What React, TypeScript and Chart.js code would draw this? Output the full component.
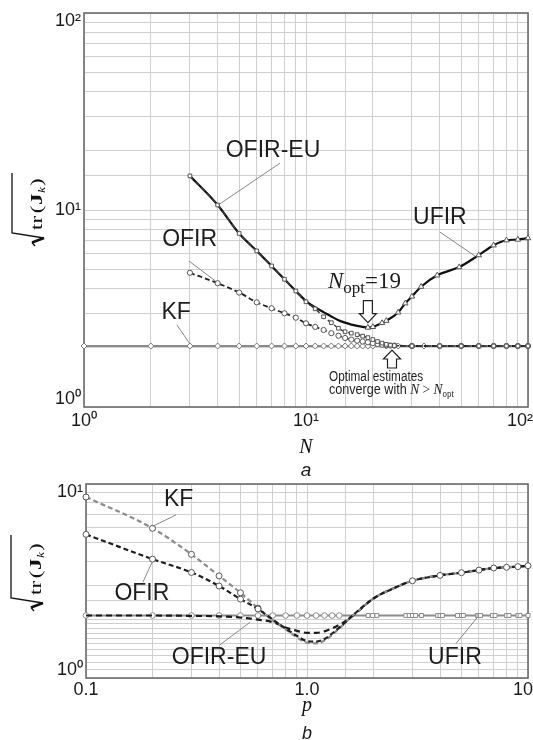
import React, { useEffect, useRef } from 'react';
import { Chart, registerables } from 'chart.js';

Chart.register(...registerables);

// ===================== Panel a : sqrt(tr J_k) versus horizon N =====================
const nKF = [1, 2, 3, 4, 5, 6, 7, 8, 9, 10, 11, 12, 13, 14, 15, 16, 17, 18, 19, 20, 23, 26, 30, 34, 40, 50, 60, 70, 80, 90, 100];
const vKF = [2.04, 2.04, 2.04, 2.04, 2.04, 2.04, 2.04, 2.04, 2.04, 2.04, 2.04, 2.04, 2.04, 2.04, 2.04, 2.04, 2.04, 2.04, 2.04, 2.04, 2.04, 2.04, 2.04, 2.04, 2.04, 2.04, 2.04, 2.04, 2.04, 2.04, 2.04];

const nOFIR = [3, 4, 5, 6, 7, 8, 9, 10, 11, 12, 13, 14, 15, 16, 17, 18, 19, 20, 21, 22, 23, 24, 25, 30, 40, 50, 60, 70, 80, 90, 100];
const vOFIR = [4.8, 4.25, 3.81, 3.4, 3.17, 2.99, 2.84, 2.66, 2.55, 2.46, 2.37, 2.3, 2.24, 2.2, 2.17, 2.15, 2.13, 2.11, 2.09, 2.07, 2.06, 2.05, 2.05, 2.04, 2.04, 2.04, 2.04, 2.04, 2.04, 2.04, 2.04];

const nOFIREU = [3, 4, 5, 6, 7, 8, 9, 10, 11, 12, 13, 14, 15, 16, 17, 18, 19, 20, 21, 22, 23, 24, 25, 30, 40, 50, 60, 70, 80, 90, 100];
const vOFIREU = [14.9, 10.6, 7.6, 6.2, 5.2, 4.45, 3.88, 3.42, 3.15, 2.87, 2.68, 2.51, 2.41, 2.37, 2.33, 2.29, 2.25, 2.2, 2.15, 2.11, 2.08, 2.06, 2.05, 2.04, 2.04, 2.04, 2.04, 2.04, 2.04, 2.04, 2.04];

const nUFIR = [3, 4, 5, 6, 7, 8, 9, 10, 11, 12, 13, 14, 15, 16, 17, 18, 19, 20, 22, 23, 26, 28, 30, 33, 39, 49, 60, 70, 80, 90, 100];
const vUFIR = [14.9, 10.6, 7.6, 6.2, 5.2, 4.45, 3.88, 3.45, 3.2, 3.03, 2.88, 2.76, 2.68, 2.62, 2.58, 2.55, 2.53, 2.55, 2.67, 2.74, 3.02, 3.36, 3.64, 4.08, 4.66, 5.13, 5.9, 6.62, 7.02, 7.08, 7.2];

const N_OPT = 19;
const N_OPT_VALUE = 2.53;

const xTickValsA = [1, 10, 100];
const xTickTextA = ['10\u2070', '10\u00B9', '10\u00B2'];
const yTickValsA = [1, 10, 100];
const yTickTextA = ['10\u2070', '10\u00B9', '10\u00B2'];

// ===================== Panel b : sqrt(tr J_k) versus noise factor p =====================
const pB = [0.1, 0.2, 0.3, 0.4, 0.5, 0.6, 0.7, 0.8, 0.9, 1.0, 1.1, 1.2, 1.4, 1.6, 2.0, 2.5, 3, 4, 5, 6, 7, 8, 9, 10];
const vKFb = [8.57, 5.91, 4.34, 3.36, 2.75, 2.29, 1.98, 1.78, 1.62, 1.52, 1.51, 1.56, 1.8, 2.08, 2.57, 2.92, 3.17, 3.38, 3.49, 3.6, 3.69, 3.72, 3.75, 3.79];
const vOFIRb = [5.5, 4.1, 3.5, 2.98, 2.55, 2.27, 2.0, 1.8, 1.65, 1.55, 1.54, 1.59, 1.82, 2.09, 2.57, 2.92, 3.17, 3.38, 3.49, 3.6, 3.69, 3.72, 3.75, 3.79];
const vOFIREUb = [2.1, 2.1, 2.09, 2.08, 2.05, 2.0, 1.94, 1.82, 1.75, 1.71, 1.71, 1.74, 1.88, 2.08, 2.57, 2.92, 3.17, 3.38, 3.49, 3.6, 3.69, 3.72, 3.75, 3.79];

const pUFIRb = [0.1, 0.2, 0.3, 0.4, 0.5, 0.6, 0.7, 0.8, 0.9, 1.0, 1.1, 1.2, 1.3, 1.4, 1.89, 1.98, 2.07, 2.8, 2.9, 3.0, 3.1, 3.3, 3.9, 4.0, 4.1, 4.8, 5.0, 5.1, 5.9, 6.0, 6.1, 6.9, 7.1, 8.0, 8.2, 9.0, 9.2, 10];
const vUFIRb = [2.1, 2.1, 2.1, 2.1, 2.1, 2.1, 2.1, 2.1, 2.1, 2.1, 2.1, 2.1, 2.1, 2.1, 2.1, 2.1, 2.1, 2.1, 2.1, 2.1, 2.1, 2.1, 2.1, 2.1, 2.1, 2.1, 2.1, 2.1, 2.1, 2.1, 2.1, 2.1, 2.1, 2.1, 2.1, 2.1, 2.1, 2.1];

const xTickValsB = [0.1, 1, 10];
const xTickTextB = ['0.1', '1.0', '10'];
const yTickValsB = [1, 10];
const yTickTextB = ['10\u2070', '10\u00B9'];

// ===================== helpers =====================
const SANS = '"Liberation Sans", Arial, sans-serif';
const SERIF = '"Liberation Serif", "Times New Roman", serif';

const pts = (xs: number[], ys: number[]) => xs.map((x, i) => ({ x, y: ys[i] }));

const near = (a: number, b: number) => Math.abs(a - b) / b < 1e-6;

// x tick labels: only the decades; the last one is drawn inside the page by the plugin
const xLabelFor = (vals: number[], texts: string[], max: number) => (v: any) => {
  const n = Number(v);
  if (near(n, max)) return '';
  for (let i = 0; i < vals.length; i++) if (near(n, vals[i])) return texts[i];
  return '';
};

// y tick labels: the end labels are nudged inside the frame (two-line trick)
const yLabelFor = (vals: number[], texts: string[], min: number, max: number) => (v: any) => {
  const n = Number(v);
  for (let i = 0; i < vals.length; i++) {
    if (near(n, vals[i])) {
      if (near(n, min)) return [texts[i], ''];
      if (near(n, max)) return ['', texts[i]];
      return texts[i];
    }
  }
  return '';
};

function frame(chart: any) {
  const { ctx, chartArea: a } = chart;
  ctx.save();
  ctx.strokeStyle = '#6c6c6c';
  ctx.lineWidth = 1.6;
  ctx.strokeRect(a.left, a.top, a.right - a.left, a.bottom - a.top);
  ctx.restore();
}

function leader(ctx: any, x1: number, y1: number, x2: number, y2: number) {
  ctx.save();
  ctx.strokeStyle = '#7a7a7a';
  ctx.lineWidth = 0.9;
  ctx.beginPath();
  ctx.moveTo(x1, y1);
  ctx.lineTo(x2, y2);
  ctx.stroke();
  ctx.restore();
}

function label(ctx: any, text: string, x: number, y: number, size = 23) {
  ctx.save();
  ctx.font = `${size}px ${SANS}`;
  ctx.fillStyle = '#1e1e1e';
  ctx.textAlign = 'center';
  ctx.textBaseline = 'middle';
  ctx.fillText(text, x, y);
  ctx.restore();
}

type Run = { t: string; font: string; dy?: number };
function drawRuns(ctx: any, runs: Run[], x: number, y: number, sx = 1) {
  ctx.save();
  ctx.translate(x, y);
  ctx.scale(sx, 1);
  ctx.fillStyle = '#1e1e1e';
  ctx.textAlign = 'left';
  ctx.textBaseline = 'alphabetic';
  let px = 0;
  for (const r of runs) {
    ctx.font = r.font;
    ctx.fillText(r.t, px, r.dy || 0);
    px += ctx.measureText(r.t).width;
  }
  ctx.restore();
}

function hollowArrow(ctx: any, x: number, tipY: number, dir: number, len: number) {
  const shaftW = 9, headW = 17, headL = 9;
  const yBase = tipY - dir * len;
  const yHead = tipY - dir * headL;
  ctx.save();
  ctx.beginPath();
  ctx.moveTo(x - shaftW / 2, yBase);
  ctx.lineTo(x + shaftW / 2, yBase);
  ctx.lineTo(x + shaftW / 2, yHead);
  ctx.lineTo(x + headW / 2, yHead);
  ctx.lineTo(x, tipY);
  ctx.lineTo(x - headW / 2, yHead);
  ctx.lineTo(x - shaftW / 2, yHead);
  ctx.closePath();
  ctx.fillStyle = '#fff';
  ctx.fill();
  ctx.strokeStyle = '#222';
  ctx.lineWidth = 1.2;
  ctx.stroke();
  ctx.restore();
}

function rootLabel(ctx: any, x0: number, y0: number, len: number) {
  ctx.save();
  ctx.translate(x0, y0);
  ctx.rotate(-Math.PI / 2);
  ctx.strokeStyle = '#111';
  ctx.lineJoin = 'miter';
  ctx.lineWidth = 1.3;
  ctx.beginPath();
  ctx.moveTo(0, 5);
  ctx.lineTo(3.5, 2);
  ctx.stroke();
  ctx.lineWidth = 2.6;
  ctx.beginPath();
  ctx.moveTo(3.5, 2);
  ctx.lineTo(8, 14);
  ctx.stroke();
  ctx.lineWidth = 1.3;
  ctx.beginPath();
  ctx.moveTo(8, 14);
  ctx.lineTo(13, -18);
  ctx.lineTo(len, -18);
  ctx.stroke();
  ctx.scale(1.35, 1);
  ctx.fillStyle = '#111';
  ctx.textAlign = 'left';
  ctx.textBaseline = 'alphabetic';
  let px = 16 / 1.35;
  const base = 12;
  const put = (t: string, font: string, dy = 0, gap = 0) => {
    ctx.font = font;
    ctx.fillText(t, px, base + dy);
    px += ctx.measureText(t).width + gap;
  };
  put('tr', `17px ${SERIF}`, 0, 2);
  put('(', `17px ${SERIF}`, 0, 0.5);
  put('J', `bold 17px ${SERIF}`, 0, 0.3);
  put('k', `italic 10px ${SERIF}`, 3, 0.8);
  put(')', `17px ${SERIF}`);
  ctx.restore();
}

// ===================== plugins =====================
const topPlugin = {
  id: 'topPanelAnnotations',
  beforeDatasetsDraw(chart: any) {
    frame(chart);
  },
  afterDraw(chart: any) {
    const { ctx, scales } = chart;
    const x = scales.x, y = scales.y;
    const X = (v: number) => x.getPixelForValue(v);
    const Y = (v: number) => y.getPixelForValue(v);

    // curve labels with leader lines
    label(ctx, 'OFIR-EU', X(7.1), Y(19.9));
    leader(ctx, X(7.64), Y(17.3), X(4.02), Y(10.6));
    label(ctx, 'OFIR', X(2.99), Y(7.04));
    leader(ctx, X(2.97), Y(5.51), X(3.95), Y(4.32));
    label(ctx, 'KF', X(2.6), Y(3.0));
    leader(ctx, X(2.62), Y(2.61), X(3.0), Y(2.09));
    label(ctx, 'UFIR', X(40.1), Y(9.1));
    leader(ctx, X(40.1), Y(7.73), X(57.7), Y(5.84));

    // N_opt annotation
    const ax = X(N_OPT);
    const tip = Y(N_OPT_VALUE) - 5;
    hollowArrow(ctx, ax, tip, 1, 22);
    drawRuns(ctx, [
      { t: 'N', font: `italic 23px ${SERIF}` },
      { t: 'opt', font: `17px ${SERIF}`, dy: 5 },
      { t: '=19', font: `23px ${SERIF}` },
    ], ax - 40, tip - 35);

    // convergence annotation
    const ux = X(24.4);
    const utip = Y(2.04) + 4;
    hollowArrow(ctx, ux, utip, -1, 18);
    drawRuns(ctx, [{ t: 'Optimal estimates', font: `14px ${SANS}` }], ux - 63, utip + 31, 0.84);
    drawRuns(ctx, [
      { t: 'converge with ', font: `14px ${SANS}` },
      { t: 'N', font: `italic 15px ${SERIF}` },
      { t: ' > ', font: `15px ${SERIF}` },
      { t: 'N', font: `italic 15px ${SERIF}` },
      { t: 'opt', font: `10px ${SERIF}`, dy: 3 },
    ], ux - 63, utip + 44, 0.9);

    // last x tick label (kept inside the page)
    ctx.save();
    ctx.font = `18px ${SANS}`;
    ctx.fillStyle = '#1a1a1a';
    ctx.textAlign = 'right';
    ctx.textBaseline = 'middle';
    ctx.fillText(xTickTextA[2], chart.width, x.top + 3 + 10.8);
    // panel letter
    ctx.textAlign = 'center';
    ctx.textBaseline = 'alphabetic';
    ctx.font = `italic 19px ${SANS}`;
    ctx.fillText('a', (chart.chartArea.left + chart.chartArea.right) / 2, 476);
    ctx.restore();

    rootLabel(ctx, 30, 246, 73);
  },
};

const bottomPlugin = {
  id: 'bottomPanelAnnotations',
  beforeDatasetsDraw(chart: any) {
    frame(chart);
  },
  afterDraw(chart: any) {
    const { ctx, scales } = chart;
    const x = scales.x, y = scales.y;
    const X = (v: number) => x.getPixelForValue(v);
    const Y = (v: number) => y.getPixelForValue(v);

    label(ctx, 'KF', X(0.2626), Y(8.27));
    leader(ctx, X(0.255), Y(6.92), X(0.2), Y(6.05));
    label(ctx, 'OFIR', X(0.179), Y(2.71));
    leader(ctx, X(0.181), Y(3.12), X(0.199), Y(3.95));
    label(ctx, 'OFIR-EU', X(0.4), Y(1.27));
    leader(ctx, X(0.403), Y(1.48), X(0.553), Y(1.94));
    label(ctx, 'UFIR', X(4.67), Y(1.27));
    leader(ctx, X(4.71), Y(1.5), X(5.87), Y(2.04));

    ctx.save();
    ctx.font = `18px ${SANS}`;
    ctx.fillStyle = '#1a1a1a';
    ctx.textAlign = 'right';
    ctx.textBaseline = 'middle';
    ctx.fillText(xTickTextB[2], chart.width, x.top + 1 + 10.8);
    ctx.textAlign = 'center';
    ctx.textBaseline = 'alphabetic';
    ctx.font = `italic 18px ${SANS}`;
    ctx.fillText('b', (chart.chartArea.left + chart.chartArea.right) / 2, 259);
    ctx.restore();

    rootLabel(ctx, 29, 131, 76);
  },
};

// ===================== configs =====================
const GRID = '#cfcfcf';
const MARK = { pointBackgroundColor: '#ffffff', pointBorderColor: '#555555', pointBorderWidth: 1 };

const zeroPad = (s: any) => {
  s.paddingTop = 0;
  s.paddingBottom = 0;
  s.paddingLeft = 0;
  s.paddingRight = 0;
};

function axisX(min: number, max: number, vals: number[], texts: string[], title: string, pad: number, height: number, titlePad: number) {
  return {
    type: 'logarithmic',
    min, max,
    grid: { color: GRID, lineWidth: 1, drawTicks: false },
    border: { display: false },
    ticks: {
      autoSkip: false, maxRotation: 0, minRotation: 0, padding: pad,
      color: '#1a1a1a', font: { family: SANS, size: 18 },
      callback: xLabelFor(vals, texts, max),
    },
    title: {
      display: true, text: title, color: '#111',
      font: { family: SERIF, style: 'italic', size: 20 },
      padding: { top: 0, bottom: titlePad },
    },
    afterFit: (s: any) => { s.height = height; zeroPad(s); },
  };
}

function axisY(min: number, max: number, vals: number[], texts: string[], width: number) {
  return {
    type: 'logarithmic',
    min, max,
    grid: { color: GRID, lineWidth: 1, drawTicks: false },
    border: { display: false },
    ticks: {
      autoSkip: false, padding: 3,
      color: '#1a1a1a', font: { family: SANS, size: 18, lineHeight: 0.9 },
      callback: yLabelFor(vals, texts, min, max),
    },
    afterFit: (s: any) => { s.width = width; zeroPad(s); },
  };
}

function topConfig(): any {
  return {
    type: 'line',
    data: {
      datasets: [
        {
          label: 'OFIR-EU', data: pts(nOFIREU, vOFIREU),
          borderColor: '#3a3a3a', borderWidth: 1.6, borderDash: [5, 3],
          pointStyle: 'rect', pointRadius: 2.6, ...MARK,
          cubicInterpolationMode: 'monotone', clip: false,
        },
        {
          label: 'UFIR', data: pts(nUFIR, vUFIR),
          borderColor: '#111111', borderWidth: 2.2,
          pointStyle: 'triangle', pointRadius: nUFIR.map((n) => (n >= N_OPT ? 3.2 : 0)), ...MARK,
          cubicInterpolationMode: 'monotone', clip: false,
        },
        {
          label: 'OFIR', data: pts(nOFIR, vOFIR),
          borderColor: '#222222', borderWidth: 1.8, borderDash: [5, 3],
          pointStyle: 'circle', pointRadius: 2.6, ...MARK,
          cubicInterpolationMode: 'monotone', clip: false,
        },
        {
          label: 'KF', data: pts(nKF, vKF),
          borderColor: '#8a8a8a', borderWidth: 2.2,
          pointStyle: 'rectRot', pointRadius: 3, ...MARK, pointBorderColor: '#777777',
          clip: false,
        },
      ],
    },
    options: {
      animation: false, responsive: false, events: [],
      layout: { autoPadding: false, padding: { top: 13, right: 5, left: 0, bottom: 0 } },
      plugins: { legend: { display: false }, tooltip: { enabled: false } },
      scales: {
        x: axisX(1, 100, xTickValsA, xTickTextA, 'N', 3, 73, 20),
        y: axisY(1, 100, yTickValsA, yTickTextA, 84),
      },
    },
    plugins: [topPlugin],
  };
}

function bottomConfig(): any {
  return {
    type: 'line',
    data: {
      datasets: [
        {
          label: 'OFIR', data: pts(pB, vOFIRb),
          borderColor: '#1e1e1e', borderWidth: 2.2, borderDash: [5, 3],
          pointStyle: 'circle', pointRadius: pB.map((p) => (p <= 0.6 || p >= 3 ? 3 : 0)), ...MARK,
          cubicInterpolationMode: 'monotone', clip: false,
        },
        {
          label: 'KF', data: pts(pB, vKFb),
          borderColor: '#8c8c8c', borderWidth: 2.2, borderDash: [5, 3],
          pointStyle: 'circle', pointRadius: pB.map((p) => (p <= 0.6 ? 3 : 0)), ...MARK,
          cubicInterpolationMode: 'monotone', clip: false,
        },
        {
          label: 'OFIR-EU', data: pts(pB, vOFIREUb),
          borderColor: '#1a1a1a', borderWidth: 2.2, borderDash: [6, 4],
          pointRadius: 0,
          cubicInterpolationMode: 'monotone', clip: false,
        },
        {
          label: 'UFIR', data: pts(pUFIRb, vUFIRb),
          borderColor: '#8c8c8c', borderWidth: 1.8,
          pointStyle: pUFIRb.map((p) => (p <= 1.45 ? 'circle' : 'rect')),
          pointRadius: 2.8, ...MARK, pointBorderColor: '#8a8a8a',
          clip: false,
        },
      ],
    },
    options: {
      animation: false, responsive: false, events: [],
      layout: { autoPadding: false, padding: { top: 4, right: 5, left: 0, bottom: 0 } },
      plugins: { legend: { display: false }, tooltip: { enabled: false } },
      scales: {
        x: axisX(0.1, 10, xTickValsB, xTickTextB, 'p', 1, 62, 22),
        y: axisY(1, 10, yTickValsB, yTickTextB, 86),
      },
    },
    plugins: [bottomPlugin],
  };
}

export default function App() {
  const topRef = useRef<HTMLCanvasElement>(null);
  const botRef = useRef<HTMLCanvasElement>(null);

  useEffect(() => {
    const c1 = new Chart(topRef.current as HTMLCanvasElement, topConfig());
    const c2 = new Chart(botRef.current as HTMLCanvasElement, bottomConfig());
    return () => {
      c1.destroy();
      c2.destroy();
    };
  }, []);

  return (
    <div style={{ position: 'absolute', left: 0, top: 0, width: 533, height: 740, background: '#ffffff' }}>
      <canvas ref={topRef} width={533} height={480} style={{ position: 'absolute', left: 0, top: 0, width: 533, height: 480 }} />
      <canvas ref={botRef} width={533} height={260} style={{ position: 'absolute', left: 0, top: 480, width: 533, height: 260 }} />
    </div>
  );
}
